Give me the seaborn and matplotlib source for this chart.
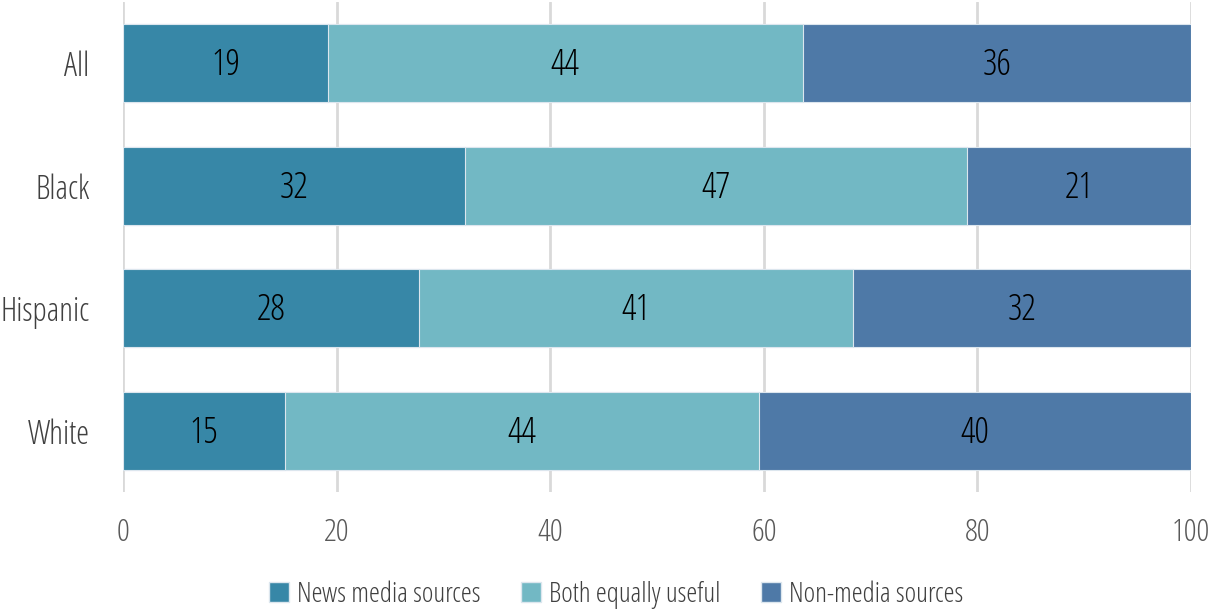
import matplotlib
matplotlib.use("Agg")
import matplotlib.pyplot as plt
from matplotlib.patches import Patch
import numpy as np
import pandas as pd
import seaborn as sns

groups = ["All", "Black", "Hispanic", "White"]
news_media = [19, 32, 28, 15]
both_useful = [44, 47, 41, 44]
non_media = [36, 21, 32, 40]

series_names = ["News media sources", "Both equally useful", "Non-media sources"]
colors = ["#3787A7", "#72B8C4", "#4E79A7"]

sns.set_theme(style="white")
plt.rcParams["font.family"] = ["Open Sans", "DejaVu Sans"]
plt.rcParams["font.stretch"] = "condensed"
plt.rcParams["font.weight"] = 300

df = pd.DataFrame({"group": groups, "news": news_media,
                   "both": both_useful, "non": non_media})
total = df[["news", "both", "non"]].sum(axis=1)
# 100% stacked: each row expressed as share of its own total
share = df[["news", "both", "non"]].div(total, axis=0) * 100
df["c1"] = share["news"]
df["c2"] = share["news"] + share["both"]
df["c3"] = share["news"] + share["both"] + share["non"]

fig = plt.figure(figsize=(12.08, 6.12), dpi=100)
ax = fig.add_axes([0.1018, 0.196, 0.8841, 0.8007])

for col, color in zip(["c3", "c2", "c1"], colors[::-1]):
    sns.barplot(data=df, x=col, y="group", orient="h", color=color,
                width=0.64, edgecolor="#DCE6EE", linewidth=0.8,
                saturation=1, ax=ax, zorder=3)

# value labels centred in each segment
starts = np.column_stack([np.zeros(len(df)), df["c1"], df["c2"]])
ends = np.column_stack([df["c1"], df["c2"], df["c3"]])
vals = np.column_stack([news_media, both_useful, non_media])
for i in range(len(groups)):
    for j in range(3):
        ax.text((starts[i, j] + ends[i, j]) / 2, i + 0.02, str(vals[i, j]),
                ha="center", va="center", fontsize=26, color="black", zorder=5)

ax.set_xlim(0, 100)
ax.set_ylim(3.5, -0.5)
ax.set_xticks(range(0, 101, 20))
ax.set_xlabel("")
ax.set_ylabel("")
ax.xaxis.grid(True, color="#D9D9D9", linewidth=2, zorder=0)
ax.set_axisbelow(True)
for s in ax.spines.values():
    s.set_visible(False)
ax.tick_params(axis="x", length=0, pad=18, labelsize=23, labelcolor="#595959")
ax.tick_params(axis="y", length=0, pad=24, labelsize=23.5, labelcolor="#404040")

handles = [Patch(facecolor=c, edgecolor="#DCE6EE", label=n)
           for c, n in zip(colors, series_names)]
fig.legend(handles=handles, loc="center", bbox_to_anchor=(0.51, 0.028),
           ncol=3, frameon=False, fontsize=20, handlelength=0.72,
           handleheight=0.72, handletextpad=0.3, columnspacing=1.45,
           labelcolor="#404040")

fig.savefig("out.png", dpi=100)
